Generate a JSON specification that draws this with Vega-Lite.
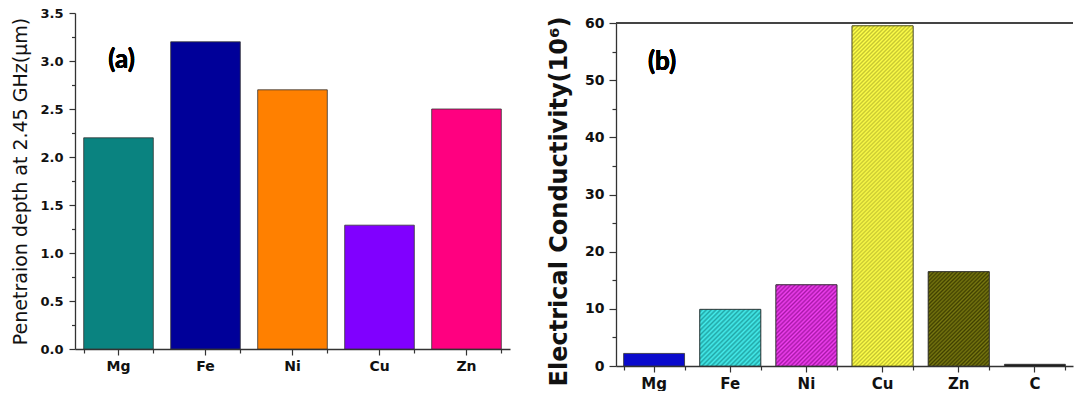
{
  "$schema": "https://vega.github.io/schema/vega-lite/v6.json",
  "padding": {"left": 11, "top": 7, "right": 0, "bottom": 0},
  "config": {
    "font": "DejaVu Sans",
    "view": {"stroke": null},
    "concat": {"spacing": 37},
    "axis": {
      "grid": false,
      "domainColor": "#333333",
      "tickColor": "#333333",
      "labelColor": "#111111",
      "titleColor": "#111111",
      "labelFont": "DejaVu Sans",
      "titleFont": "DejaVu Sans",
      "labelFontWeight": "bold",
      "domainWidth": 1.3,
      "tickWidth": 1.2
    }
  },
  "resolve": {"scale": {"color": "independent"}},
  "hconcat": [
    {
      "width": 435,
      "height": 336,
      "data": {"values": [
        {"metal": "Mg", "depth": 2.2},
        {"metal": "Fe", "depth": 3.2},
        {"metal": "Ni", "depth": 2.7},
        {"metal": "Cu", "depth": 1.29},
        {"metal": "Zn", "depth": 2.5}
      ]},
      "layer": [
        {
          "mark": {"type": "bar", "stroke": "#333333", "strokeWidth": 0.8},
          "encoding": {
            "x": {"field": "metal", "type": "nominal", "sort": null,
                  "scale": {"domain": ["Mg", "Fe", "Ni", "Cu", "Zn"], "paddingInner": 0.2, "paddingOuter": 0.1},
                  "axis": {"orient": "bottom", "title": null, "labelAngle": 0, "labelFontSize": 14, "labelPadding": 4, "tickSize": 6}},
            "y": {"field": "depth", "type": "quantitative",
                  "scale": {"domain": [0, 3.5], "nice": false},
                  "axis": {"orient": "left", "values": [0, 0.5, 1, 1.5, 2, 2.5, 3, 3.5], "format": ".1f",
                           "title": "Penetraion depth at 2.45 GHz(μm)", "titleFontSize": 19, "titleFontWeight": "normal",
                           "titlePadding": 9, "labelFontSize": 13, "labelPadding": 6, "tickSize": 6}},
            "color": {"field": "metal", "type": "nominal",
                      "scale": {"domain": ["Mg", "Fe", "Ni", "Cu", "Zn"],
                                "range": ["#0a8380", "#000099", "#ff8000", "#8000ff", "#ff0080"]},
                      "legend": null}
          }
        },
        {
          "mark": {"type": "bar", "opacity": 0},
          "encoding": {
            "x": {"field": "metal", "type": "nominal", "sort": null,
                  "axis": {"orient": "bottom", "title": null, "labels": false, "domain": false, "tickBand": "extent", "tickSize": 4}},
            "y": {"field": "depth", "type": "quantitative",
                  "axis": {"orient": "left", "title": null, "labels": false, "domain": false,
                           "values": [0.25, 0.75, 1.25, 1.75, 2.25, 2.75, 3.25], "tickSize": 3.5}}
          }
        },
        {
          "mark": {"type": "text", "text": "(a)", "font": "Lato", "fontWeight": "bold", "fontSize": 26, "color": "#000000", "dx": 3},
          "encoding": {"x": {"datum": "Mg", "axis": null}, "y": {"datum": 3.01, "axis": null}}
        }
      ],
      "resolve": {"axis": {"x": "independent", "y": "independent"}}
    },
    {
      "spacing": 0,
      "vconcat": [
        {
          "width": 457,
          "height": 3,
          "data": {"values": []},
          "mark": {"type": "text", "text": ""},
          "encoding": {}
        },
        {
          "width": 457,
          "height": 343,
          "data": {"values": [
            {"metal": "Mg", "cond": 2.2},
            {"metal": "Fe", "cond": 9.9},
            {"metal": "Ni", "cond": 14.2},
            {"metal": "Cu", "cond": 59.5},
            {"metal": "Zn", "cond": 16.5},
            {"metal": "C", "cond": 0.3}
          ]},
          "layer": [
            {
              "mark": {"type": "bar", "stroke": "#333333", "strokeWidth": 0.8},
              "encoding": {
                "x": {"field": "metal", "type": "nominal", "sort": null,
                      "scale": {"domain": ["Mg", "Fe", "Ni", "Cu", "Zn", "C"], "paddingInner": 0.2, "paddingOuter": 0.1},
                      "axis": {"orient": "bottom", "title": null, "labelAngle": 0, "labelFontSize": 15, "labelPadding": 4, "tickSize": 6}},
                "y": {"field": "cond", "type": "quantitative",
                      "scale": {"domain": [0, 60], "nice": false},
                      "axis": {"orient": "left", "values": [0, 10, 20, 30, 40, 50, 60],
                               "title": "Electrical Conductivity(10⁶)", "titleFontSize": 24, "titleFontWeight": "bold",
                               "titlePadding": 13, "titleY": 178, "labelFontSize": 14, "labelPadding": 5, "tickSize": 7}},
                "color": {"field": "metal", "type": "nominal",
                          "scale": {"domain": ["Mg", "Fe", "Ni", "Cu", "Zn", "C"],
                                    "range": ["#0a0acc", "#30c4c4", "#cc2ccc", "#e8e83c", "#5c5c08", "#111111"]},
                          "legend": null}
              }
            },
            {
              "transform": [{"filter": "datum.metal === 'Fe'"}],
              "mark": {"type": "bar", "stroke": "#333333", "strokeWidth": 0.8,
                       "fill": {"gradient": "linear", "x1": 0, "y1": 0, "x2": 1.035, "y2": 0.962, "stops": [
                         {"offset": 0, "color": "#44ecec"}, {"offset": 0.02, "color": "#22a6a6"},
                         {"offset": 0.04, "color": "#44ecec"}, {"offset": 0.06, "color": "#22a6a6"},
                         {"offset": 0.08, "color": "#44ecec"}, {"offset": 0.1, "color": "#22a6a6"},
                         {"offset": 0.12, "color": "#44ecec"}, {"offset": 0.14, "color": "#22a6a6"},
                         {"offset": 0.16, "color": "#44ecec"}, {"offset": 0.18, "color": "#22a6a6"},
                         {"offset": 0.2, "color": "#44ecec"}, {"offset": 0.22, "color": "#22a6a6"},
                         {"offset": 0.24, "color": "#44ecec"}, {"offset": 0.26, "color": "#22a6a6"},
                         {"offset": 0.28, "color": "#44ecec"}, {"offset": 0.3, "color": "#22a6a6"},
                         {"offset": 0.32, "color": "#44ecec"}, {"offset": 0.34, "color": "#22a6a6"},
                         {"offset": 0.36, "color": "#44ecec"}, {"offset": 0.38, "color": "#22a6a6"},
                         {"offset": 0.4, "color": "#44ecec"}, {"offset": 0.42, "color": "#22a6a6"},
                         {"offset": 0.44, "color": "#44ecec"}, {"offset": 0.46, "color": "#22a6a6"},
                         {"offset": 0.48, "color": "#44ecec"}, {"offset": 0.5, "color": "#22a6a6"},
                         {"offset": 0.52, "color": "#44ecec"}, {"offset": 0.54, "color": "#22a6a6"},
                         {"offset": 0.56, "color": "#44ecec"}, {"offset": 0.58, "color": "#22a6a6"},
                         {"offset": 0.6, "color": "#44ecec"}, {"offset": 0.62, "color": "#22a6a6"},
                         {"offset": 0.64, "color": "#44ecec"}, {"offset": 0.66, "color": "#22a6a6"},
                         {"offset": 0.68, "color": "#44ecec"}, {"offset": 0.7, "color": "#22a6a6"},
                         {"offset": 0.72, "color": "#44ecec"}, {"offset": 0.74, "color": "#22a6a6"},
                         {"offset": 0.76, "color": "#44ecec"}, {"offset": 0.78, "color": "#22a6a6"},
                         {"offset": 0.8, "color": "#44ecec"}, {"offset": 0.82, "color": "#22a6a6"},
                         {"offset": 0.84, "color": "#44ecec"}, {"offset": 0.86, "color": "#22a6a6"},
                         {"offset": 0.88, "color": "#44ecec"}, {"offset": 0.9, "color": "#22a6a6"},
                         {"offset": 0.92, "color": "#44ecec"}, {"offset": 0.94, "color": "#22a6a6"},
                         {"offset": 0.96, "color": "#44ecec"}, {"offset": 0.98, "color": "#22a6a6"},
                         {"offset": 1, "color": "#44ecec"}
                       ]}},
              "encoding": {
                "x": {"field": "metal", "type": "nominal", "sort": null, "axis": null},
                "y": {"field": "cond", "type": "quantitative", "axis": null}
              }
            },
            {
              "transform": [{"filter": "datum.metal === 'Ni'"}],
              "mark": {"type": "bar", "stroke": "#333333", "strokeWidth": 0.8,
                       "fill": {"gradient": "linear", "x1": 0, "y1": 0, "x2": 0.84, "y2": 1.12, "stops": [
                         {"offset": 0, "color": "#f040f0"}, {"offset": 0.015, "color": "#a818a8"},
                         {"offset": 0.03, "color": "#f040f0"}, {"offset": 0.045, "color": "#a818a8"},
                         {"offset": 0.06, "color": "#f040f0"}, {"offset": 0.075, "color": "#a818a8"},
                         {"offset": 0.09, "color": "#f040f0"}, {"offset": 0.105, "color": "#a818a8"},
                         {"offset": 0.12, "color": "#f040f0"}, {"offset": 0.135, "color": "#a818a8"},
                         {"offset": 0.15, "color": "#f040f0"}, {"offset": 0.165, "color": "#a818a8"},
                         {"offset": 0.18, "color": "#f040f0"}, {"offset": 0.195, "color": "#a818a8"},
                         {"offset": 0.21, "color": "#f040f0"}, {"offset": 0.225, "color": "#a818a8"},
                         {"offset": 0.24, "color": "#f040f0"}, {"offset": 0.255, "color": "#a818a8"},
                         {"offset": 0.27, "color": "#f040f0"}, {"offset": 0.285, "color": "#a818a8"},
                         {"offset": 0.3, "color": "#f040f0"}, {"offset": 0.315, "color": "#a818a8"},
                         {"offset": 0.33, "color": "#f040f0"}, {"offset": 0.345, "color": "#a818a8"},
                         {"offset": 0.36, "color": "#f040f0"}, {"offset": 0.375, "color": "#a818a8"},
                         {"offset": 0.39, "color": "#f040f0"}, {"offset": 0.405, "color": "#a818a8"},
                         {"offset": 0.42, "color": "#f040f0"}, {"offset": 0.435, "color": "#a818a8"},
                         {"offset": 0.45, "color": "#f040f0"}, {"offset": 0.465, "color": "#a818a8"},
                         {"offset": 0.48, "color": "#f040f0"}, {"offset": 0.495, "color": "#a818a8"},
                         {"offset": 0.51, "color": "#f040f0"}, {"offset": 0.525, "color": "#a818a8"},
                         {"offset": 0.54, "color": "#f040f0"}, {"offset": 0.555, "color": "#a818a8"},
                         {"offset": 0.57, "color": "#f040f0"}, {"offset": 0.585, "color": "#a818a8"},
                         {"offset": 0.6, "color": "#f040f0"}, {"offset": 0.615, "color": "#a818a8"},
                         {"offset": 0.63, "color": "#f040f0"}, {"offset": 0.645, "color": "#a818a8"},
                         {"offset": 0.66, "color": "#f040f0"}, {"offset": 0.675, "color": "#a818a8"},
                         {"offset": 0.69, "color": "#f040f0"}, {"offset": 0.705, "color": "#a818a8"},
                         {"offset": 0.72, "color": "#f040f0"}, {"offset": 0.735, "color": "#a818a8"},
                         {"offset": 0.75, "color": "#f040f0"}, {"offset": 0.765, "color": "#a818a8"},
                         {"offset": 0.78, "color": "#f040f0"}, {"offset": 0.795, "color": "#a818a8"},
                         {"offset": 0.81, "color": "#f040f0"}, {"offset": 0.825, "color": "#a818a8"},
                         {"offset": 0.84, "color": "#f040f0"}, {"offset": 0.855, "color": "#a818a8"},
                         {"offset": 0.87, "color": "#f040f0"}, {"offset": 0.885, "color": "#a818a8"},
                         {"offset": 0.9, "color": "#f040f0"}, {"offset": 0.915, "color": "#a818a8"},
                         {"offset": 0.93, "color": "#f040f0"}, {"offset": 0.945, "color": "#a818a8"},
                         {"offset": 0.96, "color": "#f040f0"}, {"offset": 0.975, "color": "#a818a8"},
                         {"offset": 0.99, "color": "#f040f0"}
                       ]}},
              "encoding": {
                "x": {"field": "metal", "type": "nominal", "sort": null, "axis": null},
                "y": {"field": "cond", "type": "quantitative", "axis": null}
              }
            },
            {
              "transform": [{"filter": "datum.metal === 'Cu'"}],
              "mark": {"type": "bar", "stroke": "#555522", "strokeWidth": 0.8,
                       "fill": {"gradient": "linear", "x1": 0, "y1": 0, "x2": 0.2046, "y2": 1.1425, "stops": [
                         {"offset": 0, "color": "#ffff48"}, {"offset": 0.005, "color": "#c4c432"},
                         {"offset": 0.01, "color": "#ffff48"}, {"offset": 0.015, "color": "#c4c432"},
                         {"offset": 0.02, "color": "#ffff48"}, {"offset": 0.025, "color": "#c4c432"},
                         {"offset": 0.03, "color": "#ffff48"}, {"offset": 0.035, "color": "#c4c432"},
                         {"offset": 0.04, "color": "#ffff48"}, {"offset": 0.045, "color": "#c4c432"},
                         {"offset": 0.05, "color": "#ffff48"}, {"offset": 0.055, "color": "#c4c432"},
                         {"offset": 0.06, "color": "#ffff48"}, {"offset": 0.065, "color": "#c4c432"},
                         {"offset": 0.07, "color": "#ffff48"}, {"offset": 0.075, "color": "#c4c432"},
                         {"offset": 0.08, "color": "#ffff48"}, {"offset": 0.085, "color": "#c4c432"},
                         {"offset": 0.09, "color": "#ffff48"}, {"offset": 0.095, "color": "#c4c432"},
                         {"offset": 0.1, "color": "#ffff48"}, {"offset": 0.105, "color": "#c4c432"},
                         {"offset": 0.11, "color": "#ffff48"}, {"offset": 0.115, "color": "#c4c432"},
                         {"offset": 0.12, "color": "#ffff48"}, {"offset": 0.125, "color": "#c4c432"},
                         {"offset": 0.13, "color": "#ffff48"}, {"offset": 0.135, "color": "#c4c432"},
                         {"offset": 0.14, "color": "#ffff48"}, {"offset": 0.145, "color": "#c4c432"},
                         {"offset": 0.15, "color": "#ffff48"}, {"offset": 0.155, "color": "#c4c432"},
                         {"offset": 0.16, "color": "#ffff48"}, {"offset": 0.165, "color": "#c4c432"},
                         {"offset": 0.17, "color": "#ffff48"}, {"offset": 0.175, "color": "#c4c432"},
                         {"offset": 0.18, "color": "#ffff48"}, {"offset": 0.185, "color": "#c4c432"},
                         {"offset": 0.19, "color": "#ffff48"}, {"offset": 0.195, "color": "#c4c432"},
                         {"offset": 0.2, "color": "#ffff48"}, {"offset": 0.205, "color": "#c4c432"},
                         {"offset": 0.21, "color": "#ffff48"}, {"offset": 0.215, "color": "#c4c432"},
                         {"offset": 0.22, "color": "#ffff48"}, {"offset": 0.225, "color": "#c4c432"},
                         {"offset": 0.23, "color": "#ffff48"}, {"offset": 0.235, "color": "#c4c432"},
                         {"offset": 0.24, "color": "#ffff48"}, {"offset": 0.245, "color": "#c4c432"},
                         {"offset": 0.25, "color": "#ffff48"}, {"offset": 0.255, "color": "#c4c432"},
                         {"offset": 0.26, "color": "#ffff48"}, {"offset": 0.265, "color": "#c4c432"},
                         {"offset": 0.27, "color": "#ffff48"}, {"offset": 0.275, "color": "#c4c432"},
                         {"offset": 0.28, "color": "#ffff48"}, {"offset": 0.285, "color": "#c4c432"},
                         {"offset": 0.29, "color": "#ffff48"}, {"offset": 0.295, "color": "#c4c432"},
                         {"offset": 0.3, "color": "#ffff48"}, {"offset": 0.305, "color": "#c4c432"},
                         {"offset": 0.31, "color": "#ffff48"}, {"offset": 0.315, "color": "#c4c432"},
                         {"offset": 0.32, "color": "#ffff48"}, {"offset": 0.325, "color": "#c4c432"},
                         {"offset": 0.33, "color": "#ffff48"}, {"offset": 0.335, "color": "#c4c432"},
                         {"offset": 0.34, "color": "#ffff48"}, {"offset": 0.345, "color": "#c4c432"},
                         {"offset": 0.35, "color": "#ffff48"}, {"offset": 0.355, "color": "#c4c432"},
                         {"offset": 0.36, "color": "#ffff48"}, {"offset": 0.365, "color": "#c4c432"},
                         {"offset": 0.37, "color": "#ffff48"}, {"offset": 0.375, "color": "#c4c432"},
                         {"offset": 0.38, "color": "#ffff48"}, {"offset": 0.385, "color": "#c4c432"},
                         {"offset": 0.39, "color": "#ffff48"}, {"offset": 0.395, "color": "#c4c432"},
                         {"offset": 0.4, "color": "#ffff48"}, {"offset": 0.405, "color": "#c4c432"},
                         {"offset": 0.41, "color": "#ffff48"}, {"offset": 0.415, "color": "#c4c432"},
                         {"offset": 0.42, "color": "#ffff48"}, {"offset": 0.425, "color": "#c4c432"},
                         {"offset": 0.43, "color": "#ffff48"}, {"offset": 0.435, "color": "#c4c432"},
                         {"offset": 0.44, "color": "#ffff48"}, {"offset": 0.445, "color": "#c4c432"},
                         {"offset": 0.45, "color": "#ffff48"}, {"offset": 0.455, "color": "#c4c432"},
                         {"offset": 0.46, "color": "#ffff48"}, {"offset": 0.465, "color": "#c4c432"},
                         {"offset": 0.47, "color": "#ffff48"}, {"offset": 0.475, "color": "#c4c432"},
                         {"offset": 0.48, "color": "#ffff48"}, {"offset": 0.485, "color": "#c4c432"},
                         {"offset": 0.49, "color": "#ffff48"}, {"offset": 0.495, "color": "#c4c432"},
                         {"offset": 0.5, "color": "#ffff48"}, {"offset": 0.505, "color": "#c4c432"},
                         {"offset": 0.51, "color": "#ffff48"}, {"offset": 0.515, "color": "#c4c432"},
                         {"offset": 0.52, "color": "#ffff48"}, {"offset": 0.525, "color": "#c4c432"},
                         {"offset": 0.53, "color": "#ffff48"}, {"offset": 0.535, "color": "#c4c432"},
                         {"offset": 0.54, "color": "#ffff48"}, {"offset": 0.545, "color": "#c4c432"},
                         {"offset": 0.55, "color": "#ffff48"}, {"offset": 0.555, "color": "#c4c432"},
                         {"offset": 0.56, "color": "#ffff48"}, {"offset": 0.565, "color": "#c4c432"},
                         {"offset": 0.57, "color": "#ffff48"}, {"offset": 0.575, "color": "#c4c432"},
                         {"offset": 0.58, "color": "#ffff48"}, {"offset": 0.585, "color": "#c4c432"},
                         {"offset": 0.59, "color": "#ffff48"}, {"offset": 0.595, "color": "#c4c432"},
                         {"offset": 0.6, "color": "#ffff48"}, {"offset": 0.605, "color": "#c4c432"},
                         {"offset": 0.61, "color": "#ffff48"}, {"offset": 0.615, "color": "#c4c432"},
                         {"offset": 0.62, "color": "#ffff48"}, {"offset": 0.625, "color": "#c4c432"},
                         {"offset": 0.63, "color": "#ffff48"}, {"offset": 0.635, "color": "#c4c432"},
                         {"offset": 0.64, "color": "#ffff48"}, {"offset": 0.645, "color": "#c4c432"},
                         {"offset": 0.65, "color": "#ffff48"}, {"offset": 0.655, "color": "#c4c432"},
                         {"offset": 0.66, "color": "#ffff48"}, {"offset": 0.665, "color": "#c4c432"},
                         {"offset": 0.67, "color": "#ffff48"}, {"offset": 0.675, "color": "#c4c432"},
                         {"offset": 0.68, "color": "#ffff48"}, {"offset": 0.685, "color": "#c4c432"},
                         {"offset": 0.69, "color": "#ffff48"}, {"offset": 0.695, "color": "#c4c432"},
                         {"offset": 0.7, "color": "#ffff48"}, {"offset": 0.705, "color": "#c4c432"},
                         {"offset": 0.71, "color": "#ffff48"}, {"offset": 0.715, "color": "#c4c432"},
                         {"offset": 0.72, "color": "#ffff48"}, {"offset": 0.725, "color": "#c4c432"},
                         {"offset": 0.73, "color": "#ffff48"}, {"offset": 0.735, "color": "#c4c432"},
                         {"offset": 0.74, "color": "#ffff48"}, {"offset": 0.745, "color": "#c4c432"},
                         {"offset": 0.75, "color": "#ffff48"}, {"offset": 0.755, "color": "#c4c432"},
                         {"offset": 0.76, "color": "#ffff48"}, {"offset": 0.765, "color": "#c4c432"},
                         {"offset": 0.77, "color": "#ffff48"}, {"offset": 0.775, "color": "#c4c432"},
                         {"offset": 0.78, "color": "#ffff48"}, {"offset": 0.785, "color": "#c4c432"},
                         {"offset": 0.79, "color": "#ffff48"}, {"offset": 0.795, "color": "#c4c432"},
                         {"offset": 0.8, "color": "#ffff48"}, {"offset": 0.805, "color": "#c4c432"},
                         {"offset": 0.81, "color": "#ffff48"}, {"offset": 0.815, "color": "#c4c432"},
                         {"offset": 0.82, "color": "#ffff48"}, {"offset": 0.825, "color": "#c4c432"},
                         {"offset": 0.83, "color": "#ffff48"}, {"offset": 0.835, "color": "#c4c432"},
                         {"offset": 0.84, "color": "#ffff48"}, {"offset": 0.845, "color": "#c4c432"},
                         {"offset": 0.85, "color": "#ffff48"}, {"offset": 0.855, "color": "#c4c432"},
                         {"offset": 0.86, "color": "#ffff48"}, {"offset": 0.865, "color": "#c4c432"},
                         {"offset": 0.87, "color": "#ffff48"}, {"offset": 0.875, "color": "#c4c432"},
                         {"offset": 0.88, "color": "#ffff48"}, {"offset": 0.885, "color": "#c4c432"},
                         {"offset": 0.89, "color": "#ffff48"}, {"offset": 0.895, "color": "#c4c432"},
                         {"offset": 0.9, "color": "#ffff48"}, {"offset": 0.905, "color": "#c4c432"},
                         {"offset": 0.91, "color": "#ffff48"}, {"offset": 0.915, "color": "#c4c432"},
                         {"offset": 0.92, "color": "#ffff48"}, {"offset": 0.925, "color": "#c4c432"},
                         {"offset": 0.93, "color": "#ffff48"}, {"offset": 0.935, "color": "#c4c432"},
                         {"offset": 0.94, "color": "#ffff48"}, {"offset": 0.945, "color": "#c4c432"},
                         {"offset": 0.95, "color": "#ffff48"}, {"offset": 0.955, "color": "#c4c432"},
                         {"offset": 0.96, "color": "#ffff48"}, {"offset": 0.965, "color": "#c4c432"},
                         {"offset": 0.97, "color": "#ffff48"}, {"offset": 0.975, "color": "#c4c432"},
                         {"offset": 0.98, "color": "#ffff48"}, {"offset": 0.985, "color": "#c4c432"},
                         {"offset": 0.99, "color": "#ffff48"}, {"offset": 0.995, "color": "#c4c432"},
                         {"offset": 1, "color": "#ffff48"}
                       ]}},
              "encoding": {
                "x": {"field": "metal", "type": "nominal", "sort": null, "axis": null},
                "y": {"field": "cond", "type": "quantitative", "axis": null}
              }
            },
            {
              "transform": [{"filter": "datum.metal === 'Zn'"}],
              "mark": {"type": "bar", "stroke": "#333333", "strokeWidth": 0.8,
                       "fill": {"gradient": "linear", "x1": 0, "y1": 0, "x2": 0.75, "y2": 1.161, "stops": [
                         {"offset": 0, "color": "#787810"}, {"offset": 0.0125, "color": "#404000"},
                         {"offset": 0.025, "color": "#787810"}, {"offset": 0.0375, "color": "#404000"},
                         {"offset": 0.05, "color": "#787810"}, {"offset": 0.0625, "color": "#404000"},
                         {"offset": 0.075, "color": "#787810"}, {"offset": 0.0875, "color": "#404000"},
                         {"offset": 0.1, "color": "#787810"}, {"offset": 0.1125, "color": "#404000"},
                         {"offset": 0.125, "color": "#787810"}, {"offset": 0.1375, "color": "#404000"},
                         {"offset": 0.15, "color": "#787810"}, {"offset": 0.1625, "color": "#404000"},
                         {"offset": 0.175, "color": "#787810"}, {"offset": 0.1875, "color": "#404000"},
                         {"offset": 0.2, "color": "#787810"}, {"offset": 0.2125, "color": "#404000"},
                         {"offset": 0.225, "color": "#787810"}, {"offset": 0.2375, "color": "#404000"},
                         {"offset": 0.25, "color": "#787810"}, {"offset": 0.2625, "color": "#404000"},
                         {"offset": 0.275, "color": "#787810"}, {"offset": 0.2875, "color": "#404000"},
                         {"offset": 0.3, "color": "#787810"}, {"offset": 0.3125, "color": "#404000"},
                         {"offset": 0.325, "color": "#787810"}, {"offset": 0.3375, "color": "#404000"},
                         {"offset": 0.35, "color": "#787810"}, {"offset": 0.3625, "color": "#404000"},
                         {"offset": 0.375, "color": "#787810"}, {"offset": 0.3875, "color": "#404000"},
                         {"offset": 0.4, "color": "#787810"}, {"offset": 0.4125, "color": "#404000"},
                         {"offset": 0.425, "color": "#787810"}, {"offset": 0.4375, "color": "#404000"},
                         {"offset": 0.45, "color": "#787810"}, {"offset": 0.4625, "color": "#404000"},
                         {"offset": 0.475, "color": "#787810"}, {"offset": 0.4875, "color": "#404000"},
                         {"offset": 0.5, "color": "#787810"}, {"offset": 0.5125, "color": "#404000"},
                         {"offset": 0.525, "color": "#787810"}, {"offset": 0.5375, "color": "#404000"},
                         {"offset": 0.55, "color": "#787810"}, {"offset": 0.5625, "color": "#404000"},
                         {"offset": 0.575, "color": "#787810"}, {"offset": 0.5875, "color": "#404000"},
                         {"offset": 0.6, "color": "#787810"}, {"offset": 0.6125, "color": "#404000"},
                         {"offset": 0.625, "color": "#787810"}, {"offset": 0.6375, "color": "#404000"},
                         {"offset": 0.65, "color": "#787810"}, {"offset": 0.6625, "color": "#404000"},
                         {"offset": 0.675, "color": "#787810"}, {"offset": 0.6875, "color": "#404000"},
                         {"offset": 0.7, "color": "#787810"}, {"offset": 0.7125, "color": "#404000"},
                         {"offset": 0.725, "color": "#787810"}, {"offset": 0.7375, "color": "#404000"},
                         {"offset": 0.75, "color": "#787810"}, {"offset": 0.7625, "color": "#404000"},
                         {"offset": 0.775, "color": "#787810"}, {"offset": 0.7875, "color": "#404000"},
                         {"offset": 0.8, "color": "#787810"}, {"offset": 0.8125, "color": "#404000"},
                         {"offset": 0.825, "color": "#787810"}, {"offset": 0.8375, "color": "#404000"},
                         {"offset": 0.85, "color": "#787810"}, {"offset": 0.8625, "color": "#404000"},
                         {"offset": 0.875, "color": "#787810"}, {"offset": 0.8875, "color": "#404000"},
                         {"offset": 0.9, "color": "#787810"}, {"offset": 0.9125, "color": "#404000"},
                         {"offset": 0.925, "color": "#787810"}, {"offset": 0.9375, "color": "#404000"},
                         {"offset": 0.95, "color": "#787810"}, {"offset": 0.9625, "color": "#404000"},
                         {"offset": 0.975, "color": "#787810"}, {"offset": 0.9875, "color": "#404000"},
                         {"offset": 1, "color": "#787810"}
                       ]}},
              "encoding": {
                "x": {"field": "metal", "type": "nominal", "sort": null, "axis": null},
                "y": {"field": "cond", "type": "quantitative", "axis": null}
              }
            },
            {
              "mark": {"type": "bar", "opacity": 0},
              "encoding": {
                "x": {"field": "metal", "type": "nominal", "sort": null,
                      "axis": {"orient": "bottom", "title": null, "labels": false, "domain": false, "tickBand": "extent", "tickSize": 4}},
                "y": {"field": "cond", "type": "quantitative",
                      "axis": {"orient": "left", "title": null, "labels": false, "domain": false,
                               "values": [5, 15, 25, 35, 45, 55], "tickSize": 4}}
              }
            },
            {
              "mark": {"type": "rule", "color": "#444444", "strokeWidth": 1.3},
              "encoding": {"y": {"datum": 60, "axis": null}}
            },
            {
              "mark": {"type": "text", "text": "(b)", "font": "Lato", "fontWeight": "bold", "fontSize": 26, "color": "#000000", "dx": 8},
              "encoding": {"x": {"datum": "Mg", "axis": null}, "y": {"datum": 53.2, "axis": null}}
            }
          ],
          "resolve": {"axis": {"x": "independent", "y": "independent"}}
        }
      ]
    }
  ]
}
